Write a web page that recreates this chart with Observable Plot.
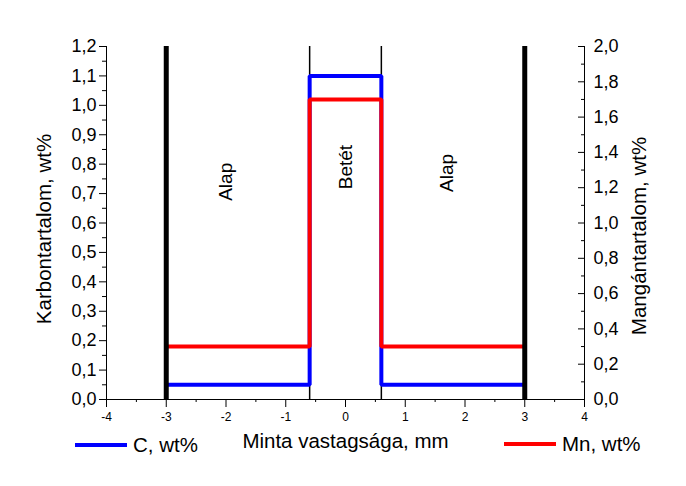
<!DOCTYPE html>
<html><head><meta charset="utf-8">
<script src="https://cdn.jsdelivr.net/npm/d3@7"></script>
<script src="https://cdn.jsdelivr.net/npm/@observablehq/plot@0.6"></script>
<style>
body{margin:0;background:#fff;font-family:"Liberation Sans",Arial,sans-serif;color:#000;}
#wrap{position:relative;width:686px;height:486px;}
.leg{position:absolute;display:flex;align-items:center;font-size:20.5px;height:24px;}
.leg span.sw{display:inline-block;width:52px;height:4px;margin-right:6px;}
</style></head><body><div id="wrap"></div>
<script>
// Data
const position = [-3, -0.6, -0.6, 0.6, 0.6, 3];      // mm
const carbon = [0.05, 0.05, 1.1, 1.1, 0.05, 0.05];    // C, wt% (left axis)
const manganese = [0.3, 0.3, 1.7, 1.7, 0.3, 0.3];     // Mn, wt% (right axis)
const sampleEdges = [-3, 3];
const layerBounds = [-0.6, 0.6];
const regionLabels = ["Alap", "Betét", "Alap"];
const regionX = [-2, 0, 1.7];
const regionY = [0.74, 0.79, 0.77];
const xTicks = [-4, -3, -2, -1, 0, 1, 2, 3, 4];
const cTicks = [0, 0.1, 0.2, 0.3, 0.4, 0.5, 0.6, 0.7, 0.8, 0.9, 1.0, 1.1, 1.2];
const mnTicks = [0, 0.2, 0.4, 0.6, 0.8, 1.0, 1.2, 1.4, 1.6, 1.8, 2.0];
const seriesNames = ["C, wt%", "Mn, wt%"];
const seriesColors = ["#0000ff", "#ff0000"];
const xTitle = "Minta vastagsága, mm";
const yLeftTitle = "Karbontartalom, wt%";
const yRightTitle = "Mangántartalom, wt%";

const cMax = 1.2, mnMax = 2.0;
const mnToC = v => v * cMax / mnMax;
const profile = position.map((p, i) => ({pos: p, c: carbon[i], mn: manganese[i]}));
const labels = regionLabels.map((t, i) => ({t, x: regionX[i], y: regionY[i]}));
const comma = d3.formatLocale({decimal: ",", thousands: ".", grouping: [3], currency: ["", ""], minus: "-"}).format(".1f");
const xMinor = d3.range(-3.5, 4, 1);
const cMinor = d3.range(0.05, 1.2, 0.1);
const mnMinor = d3.range(0.1, 2.0, 0.2);

const chart = Plot.plot({
  width: 686, height: 486,
  marginLeft: 106, marginRight: 102, marginTop: 46, marginBottom: 87,
  style: {fontFamily: '"Liberation Sans", Arial, sans-serif', color: "#000", background: "#fff"},
  x: {domain: [-4, 4], label: null},
  y: {domain: [0, cMax], label: null},
  marks: [
    Plot.ruleX(layerBounds, {y1: 0, y2: cMax, stroke: "#000", strokeWidth: 1.5}),
    Plot.line(profile, {x: "pos", y: "c", stroke: seriesColors[0], strokeWidth: 4, strokeLinejoin: "miter"}),
    Plot.line(profile, {x: "pos", y: d => mnToC(d.mn), stroke: seriesColors[1], strokeWidth: 4, strokeLinejoin: "miter"}),
    Plot.ruleX(sampleEdges, {y1: 0, y2: cMax, stroke: "#000", strokeWidth: 5}),
    Plot.text(labels, {x: "x", y: "y", text: "t", rotate: -90, fontSize: 19, fill: "#000"}),
    // spines
    Plot.ruleX([-4, 4], {y1: 0, y2: cMax, stroke: "#000", strokeWidth: 1}),
    Plot.ruleY([0], {stroke: "#000", strokeWidth: 1}),
    // axes
    Plot.axisX(xTicks, {tickSize: 8, tickPadding: 5, fontSize: 12, tickFormat: d => String(d), label: null}),
    Plot.axisX(xMinor, {tickSize: 3, tickFormat: () => "", label: null}),
    Plot.axisY(cTicks, {anchor: "left", tickSize: 7, tickPadding: 3, fontSize: 18, tickFormat: comma, label: null}),
    Plot.axisY(cMinor, {anchor: "left", tickSize: 4, tickFormat: () => "", label: null}),
    Plot.axisY(mnTicks.map(mnToC), {anchor: "right", tickSize: -7, tickPadding: 16, fontSize: 18, tickFormat: (d, i) => comma(mnTicks[i]), label: null}),
    Plot.axisY(mnMinor.map(mnToC), {anchor: "right", tickSize: -4, tickFormat: () => "", label: null}),
    // titles
    Plot.text([yLeftTitle], {frameAnchor: "left", textAnchor: "middle", dx: -62, dy: 6, rotate: -90, fontSize: 20.5, fill: "#000"}),
    Plot.text([yRightTitle], {frameAnchor: "right", textAnchor: "middle", dx: 55, dy: 13, rotate: -90, fontSize: 20.5, fill: "#000"}),
    Plot.text([xTitle], {frameAnchor: "bottom", dy: 48, fontSize: 20.5, fill: "#000"})
  ]
});
const wrap = document.getElementById("wrap");
wrap.appendChild(chart);
const legPos = [{left: 75, top: 433}, {left: 504, top: 432}];
seriesNames.forEach((n, i) => {
  const d = document.createElement("div");
  d.className = "leg";
  d.style.left = legPos[i].left + "px";
  d.style.top = legPos[i].top + "px";
  const sw = document.createElement("span");
  sw.className = "sw";
  sw.style.background = seriesColors[i];
  d.appendChild(sw);
  d.appendChild(document.createTextNode(n));
  wrap.appendChild(d);
});
</script></body></html>
